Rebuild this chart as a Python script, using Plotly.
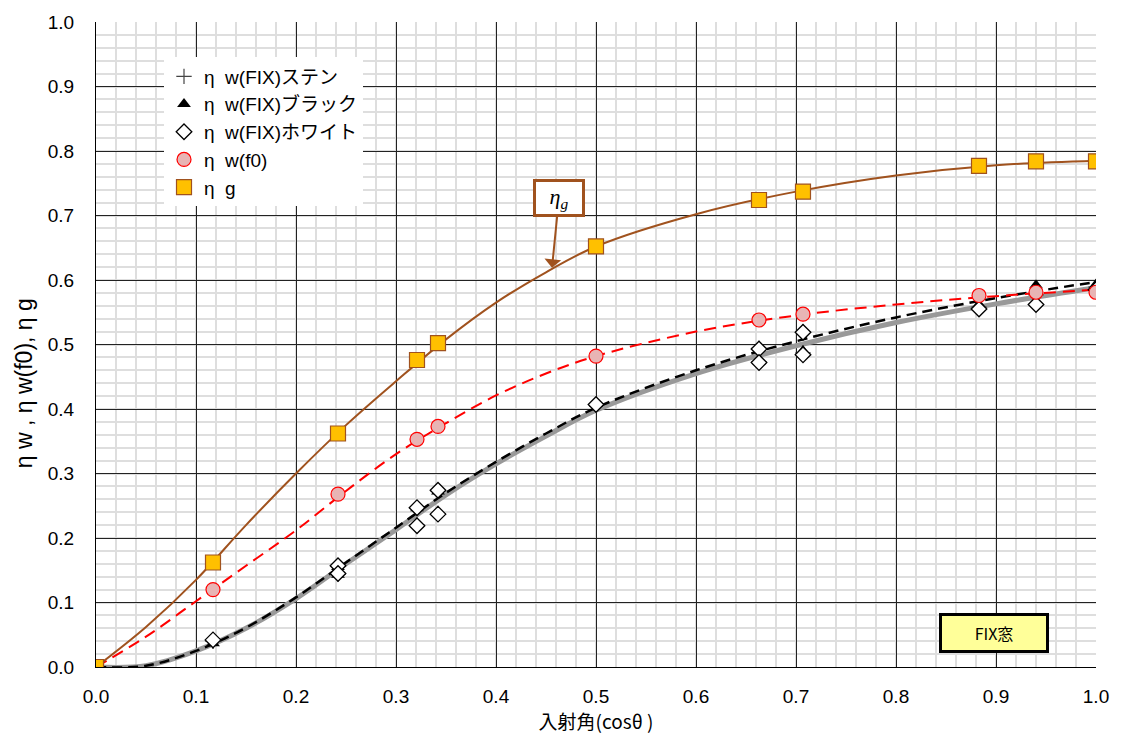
import plotly.graph_objects as go

# ---- measured points ----
x_cos = [0.0, 0.117, 0.242, 0.321, 0.342, 0.5, 0.663, 0.707, 0.883, 0.940, 1.0]
eta_g = [0.0, 0.162, 0.362, 0.476, 0.502, 0.652, 0.724, 0.737, 0.777, 0.784, 0.784]
eta_f0 = [0.0, 0.120, 0.268, 0.353, 0.373, 0.482, 0.538, 0.547, 0.576, 0.581, 0.581]

x_fix = [0.117, 0.242, 0.242, 0.321, 0.321, 0.342, 0.342, 0.5, 0.663, 0.663, 0.707, 0.707, 0.883, 0.940, 1.0]
eta_black = [0.037, 0.155, 0.143, 0.246, 0.221, 0.272, 0.239, 0.408, 0.496, 0.474, 0.522, 0.490, 0.562, 0.592, 0.593]
eta_white = [0.042, 0.157, 0.145, 0.247, 0.219, 0.274, 0.237, 0.407, 0.493, 0.472, 0.519, 0.484, 0.555, 0.562, 0.585]
eta_sten = [0.040, 0.156, 0.144, 0.246, 0.220, 0.273, 0.238, 0.407, 0.494, 0.473, 0.520, 0.487, 0.558, 0.577, 0.589]

# ---- fitted curves ----
x_fit = [0.0, 0.05, 0.1, 0.15, 0.2, 0.25, 0.3, 0.35, 0.4, 0.45, 0.5, 0.6, 0.7, 0.8, 0.9, 1.0]
fit_g = [0.0, 0.062, 0.135, 0.22, 0.30, 0.375, 0.443, 0.508, 0.565, 0.612, 0.652, 0.702, 0.737, 0.762, 0.778, 0.785]
fit_f0 = [0.0, 0.047, 0.102, 0.157, 0.212, 0.273, 0.330, 0.378, 0.421, 0.455, 0.482, 0.520, 0.545, 0.562, 0.575, 0.585]
fit_black = [0.0, 0.002, 0.025, 0.061, 0.108, 0.162, 0.216, 0.270, 0.318, 0.362, 0.402, 0.460, 0.505, 0.542, 0.572, 0.597]
fit_grey = [0.0, 0.002, 0.025, 0.060, 0.106, 0.160, 0.213, 0.267, 0.315, 0.358, 0.398, 0.455, 0.498, 0.534, 0.563, 0.588]

x_ticks = [0.0, 0.1, 0.2, 0.3, 0.4, 0.5, 0.6, 0.7, 0.8, 0.9, 1.0]
x_ticklabels = ["0.0", "0.1", "0.2", "0.3", "0.4", "0.5", "0.6", "0.7", "0.8", "0.9", "1.0"]
y_ticks = [0.0, 0.1, 0.2, 0.3, 0.4, 0.5, 0.6, 0.7, 0.8, 0.9, 1.0]
y_ticklabels = ["0.0", "0.1", "0.2", "0.3", "0.4", "0.5", "0.6", "0.7", "0.8", "0.9", "1.0"]

NB = "\u00a0"
names = ["η" + NB + NB + "w(FIX)ステン", "η" + NB + NB + "w(FIX)ブラック",
         "η" + NB + NB + "w(FIX)ホワイト", "η" + NB + NB + "w(f0)", "η" + NB + NB + "g"]
y_title = "η w , η w(f0), η g"
x_title = "入射角(cosθ )"

BROWN = "#A0521E"
fig = go.Figure()

# curves
fig.add_trace(go.Scatter(x=x_fit, y=fit_grey, mode="lines", line=dict(color="#999999", width=5, shape="spline"),
                         showlegend=False, hoverinfo="skip"))
fig.add_trace(go.Scatter(x=x_fit, y=fit_black, mode="lines", line=dict(color="black", width=2.5, dash="10px,6px", shape="spline"),
                         showlegend=False, hoverinfo="skip"))
fig.add_trace(go.Scatter(x=x_fit, y=fit_f0, mode="lines", line=dict(color="#FF0000", width=2, dash="12px,7px", shape="spline"),
                         showlegend=False, hoverinfo="skip"))
fig.add_trace(go.Scatter(x=x_fit, y=fit_g, mode="lines", line=dict(color=BROWN, width=2, shape="spline"),
                         showlegend=False, hoverinfo="skip"))

# markers
fig.add_trace(go.Scatter(x=x_fix, y=eta_sten, mode="markers", name=names[0],
                         marker=dict(symbol="cross-thin", size=11, color="#444444", line=dict(color="#444444", width=1.2))))
fig.add_trace(go.Scatter(x=x_fix, y=eta_black, mode="markers", name=names[1],
                         marker=dict(symbol="triangle-up", size=12, color="black")))
fig.add_trace(go.Scatter(x=x_fix, y=eta_white, mode="markers", name=names[2],
                         marker=dict(symbol="diamond", size=12, color="white", line=dict(color="black", width=1.3))))
fig.add_trace(go.Scatter(x=x_cos, y=eta_f0, mode="markers", name=names[3],
                         marker=dict(symbol="circle", size=14, color="#E8B4B4", line=dict(color="#FF0000", width=1.2))))
fig.add_trace(go.Scatter(x=x_cos, y=eta_g, mode="markers", name=names[4],
                         marker=dict(symbol="square", size=15, color="#FFC000", line=dict(color=BROWN, width=1.2))))

fig.update_xaxes(range=[0, 1.0], tickvals=x_ticks, ticktext=x_ticklabels,
                 showgrid=True, gridcolor="#222222", gridwidth=1,
                 minor=dict(dtick=0.02, showgrid=True, gridcolor="#DEDEDE", gridwidth=1.5),
                 showline=True, linecolor="black", linewidth=1, zeroline=False,
                 tickfont=dict(family="Liberation Sans Narrow, Liberation Sans", size=19, color="black"),
                 ticks="outside", ticklen=12, tickcolor="rgba(0,0,0,0)",
                 title=dict(text=x_title, font=dict(family="Noto Sans CJK JP", size=19, color="black"),
                            standoff=0))
fig.update_yaxes(range=[0, 1.0], tickvals=y_ticks, ticktext=y_ticklabels,
                 showgrid=True, gridcolor="#222222", gridwidth=1,
                 minor=dict(dtick=0.02, showgrid=True, gridcolor="#DEDEDE", gridwidth=1.5),
                 showline=True, linecolor="black", linewidth=1, zeroline=False,
                 tickfont=dict(family="Liberation Sans", size=19, color="black"),
                 ticks="", ticklabelstandoff=17)

fig.update_layout(
    width=1121, height=738,
    margin=dict(l=96, r=22, t=18, b=71),
    plot_bgcolor="white", paper_bgcolor="white",
    font=dict(family="Liberation Sans, Noto Sans CJK JP", color="black"),
    legend=dict(x=0.068, y=0.945, xanchor="left", yanchor="top", bgcolor="white",
                font=dict(family="Liberation Sans, Noto Sans CJK JP", size=19, color="black"),
                itemwidth=30, tracegroupgap=0, borderwidth=0),
    showlegend=True,
    annotations=[
        dict(x=-0.072, y=0.44, xref="paper", yref="paper", xanchor="center", yanchor="middle",
             text=y_title, textangle=-90, showarrow=False,
             font=dict(family="Liberation Sans, Noto Sans CJK JP", size=23, color="black")),
        dict(x=0.456, y=0.619, xref="x", yref="y", ax=7, ay=-70, axref="pixel", ayref="pixel",
             text="<i>η<sub>g</sub></i>", showarrow=True, arrowhead=1, arrowsize=1.4, arrowwidth=2,
             arrowcolor=BROWN, bgcolor="white", bordercolor=BROWN, borderwidth=3,
             width=44, height=30, font=dict(family="Liberation Serif, DejaVu Serif", size=22, color="black")),
        dict(x=0.898, y=0.052, xref="x", yref="y", text="FIX窓", showarrow=False,
             bgcolor="#FFFF99", bordercolor="black", borderwidth=3, width=102, height=32,
             font=dict(family="Noto Sans CJK JP", size=16, color="black")),
    ],
)

fig.write_html("out.html")
